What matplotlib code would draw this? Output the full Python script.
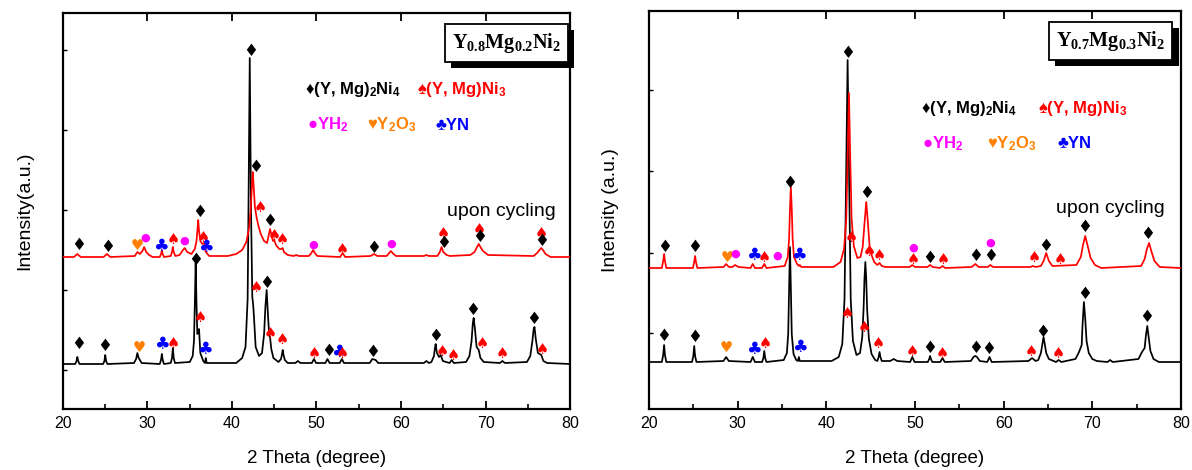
import matplotlib
matplotlib.use("Agg")
import matplotlib.pyplot as plt
import matplotlib.patheffects as pe

plt.rcParams['font.family'] = ['Liberation Sans', 'DejaVu Sans']
plt.rcParams['mathtext.default'] = 'regular'

# ---- data: (2theta, intensity) vertices of each pattern ----
left_asprep = [
    (20.0, 45), (21.45, 45), (21.6, 48), (21.7, 52), (21.8, 48), (21.95, 45),
    (24.75, 45), (24.9, 48), (25.0, 54), (25.1, 48), (25.25, 45),
    (28.4, 46), (28.65, 50), (28.8, 56), (28.95, 51), (29.1, 49), (29.3, 46),
    (31.45, 45), (31.6, 49), (31.7, 55), (31.8, 49), (31.95, 45),
    (32.75, 46), (32.9, 51), (33.0, 61), (33.1, 51), (33.25, 46),
    (35.0, 47), (35.35, 53), (35.5, 68), (35.6, 105), (35.7, 146), (35.8, 105), (35.9, 75),
    (36.05, 78), (36.1, 80), (36.25, 56), (36.6, 48), (36.8, 46), (36.9, 51), (37.0, 46),
    (40.5, 46), (41.2, 51), (41.6, 62), (41.85, 110), (41.95, 200), (42.1, 351), (42.25, 200),
    (42.4, 112), (42.5, 105), (42.6, 92), (42.8, 62), (43.2, 53), (43.55, 56), (43.8, 75),
    (43.95, 102), (44.1, 119), (44.25, 95), (44.4, 74), (44.5, 72), (44.65, 60), (44.9, 51),
    (45.5, 47), (45.8, 50), (45.9, 54), (46.0, 59), (46.1, 54), (46.25, 49), (46.6, 46),
    (47.5, 46), (47.8, 48), (48.1, 46),
    (49.45, 46), (49.7, 50), (49.95, 46),
    (51.05, 46), (51.3, 50), (51.55, 46),
    (52.75, 46), (53.0, 50), (53.25, 46),
    (56.3, 46), (56.6, 50), (57.0, 49), (57.3, 46),
    (62.7, 46), (63.0, 48), (63.3, 46),
    (63.6, 47), (63.9, 53), (64.0, 60), (64.1, 65), (64.25, 56), (64.5, 52), (64.7, 54),
    (64.95, 48),
    (65.75, 46), (66.0, 49), (66.25, 46),
    (67.7, 47), (68.1, 53), (68.35, 68), (68.5, 86), (68.6, 91), (68.75, 80), (68.95, 62),
    (69.2, 59), (69.4, 51), (69.8, 47),
    (71.7, 46), (72.0, 48), (72.3, 46),
    (74.9, 47), (75.3, 53), (75.55, 68), (75.7, 80), (75.8, 82), (75.95, 70), (76.2, 56),
    (76.6, 54), (76.85, 48), (77.3, 46),
    (80.0, 45),
]
left_cycled = [
    (20.0, 152), (21.3, 152), (21.7, 155), (22.1, 152),
    (24.8, 152), (25.2, 155), (25.6, 152),
    (28.5, 153), (28.8, 157), (29.1, 155), (29.4, 158), (29.6, 162), (29.85, 157),
    (30.2, 154), (30.6, 152),
    (31.45, 152), (31.6, 155), (31.7, 159), (31.8, 155), (31.95, 152),
    (32.75, 153), (32.9, 157), (33.0, 162), (33.1, 157), (33.3, 153),
    (33.8, 154), (34.2, 159), (34.4, 161), (34.7, 157), (35.2, 155), (35.6, 160), (35.8, 168),
    (35.9, 178), (36.0, 189), (36.1, 178), (36.25, 168), (36.5, 165), (36.7, 166), (36.9, 157),
    (37.3, 153),
    (39.5, 153), (40.5, 155), (41.2, 159), (41.7, 167), (42.0, 180), (42.2, 198), (42.35, 222),
    (42.45, 237), (42.55, 225), (42.7, 203), (42.9, 192), (43.1, 184), (43.4, 175), (43.8, 168),
    (44.15, 166), (44.35, 174), (44.5, 180), (44.65, 175), (44.85, 168), (45.0, 169),
    (45.2, 164), (45.6, 160), (45.85, 160), (46.0, 161), (46.15, 157), (46.6, 154),
    (47.3, 153), (47.6, 154), (47.9, 153),
    (49.1, 153), (49.4, 156), (49.6, 159), (49.8, 156), (50.1, 153),
    (52.8, 152), (53.1, 156), (53.4, 152),
    (56.4, 153), (56.8, 155), (57.2, 153),
    (58.3, 153), (58.6, 156), (58.8, 158), (59.0, 156), (59.4, 153),
    (62.7, 153), (63.0, 154), (63.3, 153),
    (64.3, 153), (64.6, 157), (64.8, 162), (65.0, 157), (65.4, 154), (65.8, 153),
    (68.2, 154), (68.7, 157), (69.0, 162), (69.2, 165), (69.4, 162), (69.7, 158), (70.3, 154),
    (75.7, 153), (76.1, 156), (76.4, 159), (76.6, 161), (76.8, 159), (77.1, 155), (77.7, 152),
    (80.0, 152),
]
right_asprep = [
    (20.0, 47), (21.45, 47), (21.6, 54), (21.7, 64), (21.8, 54), (21.95, 47),
    (24.85, 47), (25.0, 53), (25.1, 63), (25.2, 53), (25.35, 47),
    (28.4, 48), (28.7, 52), (29.0, 48),
    (31.45, 47), (31.7, 52), (31.95, 47),
    (32.75, 47), (32.9, 51), (33.0, 58), (33.1, 51), (33.25, 47),
    (35.2, 49), (35.55, 56), (35.7, 75), (35.8, 120), (35.9, 162), (36.0, 120), (36.1, 75),
    (36.3, 55), (36.6, 49), (36.8, 48), (36.9, 52), (37.0, 48),
    (40.6, 48), (41.4, 52), (41.8, 65), (42.05, 110), (42.2, 210), (42.4, 349), (42.6, 210),
    (42.75, 110), (43.0, 68), (43.4, 54), (43.8, 56), (44.05, 72), (44.2, 100), (44.3, 130),
    (44.4, 147), (44.5, 130), (44.6, 100), (44.8, 70), (45.1, 55), (45.5, 49),
    (45.75, 48), (45.9, 52), (46.0, 57), (46.1, 52), (46.25, 48),
    (47.2, 48), (47.6, 50), (48.0, 48),
    (49.45, 47), (49.7, 52), (49.95, 47),
    (51.45, 47), (51.6, 50), (51.7, 53), (51.8, 50), (51.95, 47),
    (52.85, 47), (53.1, 51), (53.35, 47),
    (56.3, 48), (56.6, 52), (56.8, 53), (57.0, 52), (57.3, 48),
    (58.15, 47), (58.4, 52), (58.65, 47),
    (62.8, 48), (63.2, 51), (63.6, 48),
    (63.9, 49), (64.2, 56), (64.35, 64), (64.5, 72), (64.65, 64), (64.8, 56), (65.1, 50),
    (65.9, 47), (66.2, 49), (66.5, 47),
    (68.1, 50), (68.5, 57), (68.8, 64), (68.9, 85), (69.05, 107), (69.2, 90), (69.35, 68),
    (69.6, 56), (70.0, 50), (70.5, 48),
    (71.7, 47), (72.0, 49), (72.3, 47),
    (75.2, 50), (75.6, 57), (75.9, 61), (76.05, 74), (76.2, 83), (76.35, 72), (76.55, 58),
    (76.9, 50), (77.5, 47),
    (80.0, 47),
]
right_cycled = [
    (20.0, 141), (21.45, 141), (21.6, 148), (21.7, 155), (21.8, 148), (21.95, 141),
    (24.95, 141), (25.1, 147), (25.2, 153), (25.3, 147), (25.45, 141),
    (28.4, 142), (28.7, 145), (29.0, 142), (29.4, 142), (29.7, 144), (30.1, 142),
    (31.45, 141), (31.7, 145), (31.95, 141),
    (32.75, 141), (33.0, 145), (33.25, 141),
    (35.3, 143), (35.65, 152), (35.8, 170), (35.9, 200), (36.0, 222), (36.1, 200), (36.2, 170),
    (36.35, 152), (36.7, 145), (36.9, 143), (37.0, 144), (37.2, 142),
    (40.8, 142), (41.6, 147), (42.0, 160), (42.25, 190), (42.4, 250), (42.55, 316),
    (42.7, 250), (42.85, 190), (43.1, 163), (43.5, 151), (43.85, 152), (44.1, 162),
    (44.3, 185), (44.5, 207), (44.7, 185), (44.9, 160), (45.1, 154), (45.4, 147), (45.75, 144),
    (46.0, 146), (46.25, 143), (46.7, 142),
    (49.4, 142), (49.7, 144), (50.0, 142),
    (51.4, 142), (51.7, 144), (52.0, 142),
    (52.8, 141), (53.1, 143), (53.4, 141),
    (56.4, 142), (56.8, 145), (57.2, 142),
    (58.2, 142), (58.5, 144), (58.8, 142),
    (63.0, 142), (63.3, 143), (63.6, 142),
    (64.2, 143), (64.5, 148), (64.8, 156), (65.1, 148), (65.5, 143),
    (68.2, 144), (68.7, 152), (68.95, 164), (69.2, 173), (69.45, 164), (69.8, 151),
    (70.3, 144), (71.0, 141),
    (75.5, 143), (75.9, 150), (76.15, 160), (76.4, 166), (76.65, 158), (77.0, 148),
    (77.6, 142),
    (80.0, 141),
]

# phase markers: (phase, 2theta, height)
left_marks = [
    ("d", 21.8, 164), ("d", 25.3, 162), ("h", 28.8, 164), ("o", 29.7, 171), ("c", 31.6, 163),
    ("s", 33.0, 170), ("o", 34.4, 168), ("d", 36.2, 197), ("s", 36.6, 172), ("c", 36.9, 162),
    ("d", 42.2, 358), ("d", 42.8, 242), ("s", 43.3, 202), ("d", 44.5, 188), ("s", 45.0, 173),
    ("s", 46.0, 170), ("o", 49.6, 164), ("s", 53.1, 160), ("d", 56.8, 161), ("o", 58.8, 165),
    ("s", 65.0, 176), ("d", 65.0, 166), ("s", 69.3, 179), ("d", 69.3, 172), ("s", 76.6, 176),
    ("d", 76.6, 168),
    ("d", 21.8, 65), ("d", 24.9, 63), ("h", 29.0, 62), ("c", 31.7, 65), ("s", 33.0, 66),
    ("d", 35.7, 149), ("s", 36.2, 92), ("c", 36.8, 60), ("s", 42.9, 121), ("d", 44.1, 126),
    ("s", 44.5, 76), ("s", 46.0, 70), ("s", 49.7, 55), ("d", 51.4, 58), ("c", 52.7, 57),
    ("s", 53.1, 56), ("d", 56.7, 57), ("d", 64.1, 73), ("s", 64.9, 58), ("s", 66.2, 54),
    ("d", 68.5, 99), ("s", 69.6, 65), ("s", 72.0, 55), ("d", 75.7, 90), ("s", 76.7, 59),
]
right_marks = [
    ("d", 21.8, 162), ("d", 25.1, 162), ("h", 28.8, 152), ("o", 29.7, 155), ("c", 31.8, 154),
    ("s", 33.0, 152), ("o", 34.5, 153), ("d", 35.9, 226), ("c", 36.9, 154), ("d", 42.4, 356),
    ("s", 42.8, 171), ("d", 44.5, 216), ("s", 44.8, 157), ("s", 46.0, 153), ("o", 49.75, 161),
    ("s", 49.75, 149), ("d", 51.65, 151), ("s", 53.15, 149), ("d", 56.8, 153), ("o", 58.5, 166),
    ("d", 58.5, 153), ("s", 63.5, 151), ("d", 64.7, 163), ("s", 66.4, 150), ("d", 69.1, 182),
    ("d", 76.25, 175),
    ("d", 21.7, 73), ("d", 25.1, 72), ("h", 28.7, 62), ("c", 31.8, 60), ("s", 33.1, 66),
    ("c", 37.0, 62), ("s", 42.4, 96), ("s", 44.3, 81), ("s", 45.9, 66), ("s", 49.7, 58),
    ("d", 51.65, 61), ("s", 53.1, 56), ("d", 56.8, 61), ("d", 58.25, 60), ("s", 63.1, 58),
    ("d", 64.45, 77), ("s", 66.2, 56), ("d", 69.1, 115), ("d", 76.1, 92),
]

glyph = {"d": ("\u2666", "black", 12), "s": ("\u2660", "red", 10.5), "c": ("\u2663", "blue", 12.5),
         "h": ("\u2665", "#ff8000", 10.5), "o": ("\u25cf", "magenta", 8)}

panels = [
    dict(rect=[63/1192, 61/470, 507/1192, 396/470], top=396, asprep=left_asprep,
         cycled=left_cycled, marks=left_marks, yticks=[39, 119, 199, 279, 359],
         title=r"Y$_{0.8}$Mg$_{0.2}$Ni$_2$", title_xy=(0.874, 0.925),
         ylabel="Intensity(a.u.)", cyc_xy=(0.757, 0.50),
         leg1=(0.477, 0.698, 0.806), leg2=(0.481, 0.600, 0.734, 0.717)),
    dict(rect=[649/1192, 61/470, 532/1192, 398/470], top=398, asprep=right_asprep,
         cycled=right_cycled, marks=right_marks, yticks=[76, 156, 238, 319],
         title=r"Y$_{0.7}$Mg$_{0.3}$Ni$_2$", title_xy=(0.868, 0.925),
         ylabel="Intensity (a.u.)", cyc_xy=(0.765, 0.505),
         leg1=(0.5105, 0.731, 0.756), leg2=(0.513, 0.635, 0.767, 0.666)),
]

fig = plt.figure(figsize=(11.92, 4.70), dpi=100)

for p in panels:
    ax = fig.add_axes(p["rect"])
    x, y = zip(*p["asprep"])
    ax.plot(x, y, color="black", lw=1.25, zorder=2)
    x, y = zip(*p["cycled"])
    ax.plot(x, y, color="red", lw=1.25, zorder=3)

    for kind, mx, my in p["marks"]:
        g, c, fs = glyph[kind]
        ax.text(mx, my, g, color=c, fontsize=fs, ha="center", va="center",
                family=["DejaVu Sans"], zorder=4)

    ax.set_xlim(20, 80)
    ax.set_ylim(0, p["top"])
    ax.set_xticks(range(20, 81, 10))
    ax.set_xticks(range(25, 80, 10), minor=True)
    ax.set_yticks(p["yticks"])
    ax.set_yticklabels([])
    ax.tick_params(axis="x", which="major", direction="in", length=6, width=1.3,
                   labelsize=11.5, pad=5, top=True)
    ax.tick_params(axis="x", which="minor", direction="in", length=3.5, width=1.2, top=False)
    ax.tick_params(axis="y", direction="in", length=3, width=1.0)
    for s in ax.spines.values():
        s.set_linewidth(1.6)
    ax.set_xlabel("2 Theta (degree)", fontsize=13.5, labelpad=14)
    ax.set_ylabel(p["ylabel"], fontsize=14, labelpad=18)

    # sample name in a shadowed box
    t = ax.text(*p["title_xy"], p["title"], transform=ax.transAxes, ha="center", va="center",
                fontsize=14.5, fontweight="bold", family=["Liberation Serif"],
                bbox=dict(boxstyle="square,pad=0.35", fc="white", ec="black", lw=1.3))
    t.get_bbox_patch().set_path_effects(
        [pe.withSimplePatchShadow(offset=(4.5, -4.5), shadow_rgbFace="black", alpha=1.0)])

    # phase legend
    a1, a2, ya = p["leg1"]
    ax.text(a1, ya, "\u2666(Y, Mg)$_2$Ni$_4$", transform=ax.transAxes, fontsize=12,
            fontweight="bold", color="black", va="center")
    ax.text(a2, ya, "\u2660(Y, Mg)Ni$_3$", transform=ax.transAxes, fontsize=12,
            fontweight="bold", color="red", va="center")
    b1, b2, b3, yb = p["leg2"]
    ax.text(b1, yb, "\u25cfYH$_2$", transform=ax.transAxes, fontsize=12,
            fontweight="bold", color="magenta", va="center")
    ax.text(b2, yb, "\u2665Y$_2$O$_3$", transform=ax.transAxes, fontsize=12,
            fontweight="bold", color="#ff8000", va="center")
    ax.text(b3, yb, "\u2663YN", transform=ax.transAxes, fontsize=12,
            fontweight="bold", color="blue", va="center")

    ax.text(*p["cyc_xy"], "upon cycling", transform=ax.transAxes, fontsize=14,
            ha="left", va="center")

fig.savefig("out.png", dpi=100)
